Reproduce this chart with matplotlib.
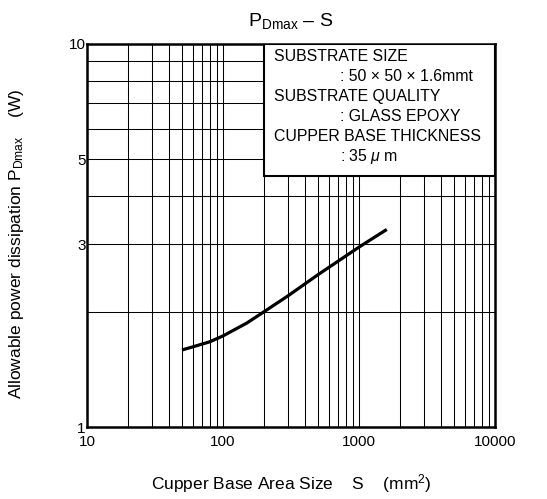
import matplotlib
matplotlib.use("Agg")
import matplotlib.pyplot as plt
from matplotlib.patches import Rectangle
from matplotlib.ticker import FixedLocator, FixedFormatter, LogLocator, NullFormatter

plt.rcParams['font.family'] = ['Liberation Sans', 'DejaVu Sans']
plt.rcParams['mathtext.fontset'] = 'custom'
plt.rcParams['mathtext.rm'] = 'Liberation Sans'
plt.rcParams['mathtext.it'] = 'Liberation Sans:italic'

# curve
area = [50, 60, 80, 100, 150, 200, 300, 500, 1000, 1600]
pdmax = [1.59, 1.62, 1.67, 1.73, 1.87, 2.0, 2.2, 2.5, 2.95, 3.28]

x_ticks = [10, 100, 1000, 10000]
x_labels = ['10', '100', '1000', '10000']
y_ticks = [1, 3, 5, 10]
y_labels = ['1', '3', '5', '10']

note_lines = [
    ('SUBSTRATE SIZE', 0),
    (': 50 × 50 × 1.6mmt', 1),
    ('SUBSTRATE QUALITY', 0),
    (': GLASS EPOXY', 1),
    ('CUPPER BASE THICKNESS', 0),
    (r': 35 $\mu$ m', 1),
]

fig = plt.figure(figsize=(5.47, 4.99), dpi=100)
ax = fig.add_axes([0.159, 0.144, 0.746, 0.768])

ax.plot(area, pdmax, color='black', lw=2.3, solid_capstyle='butt', zorder=3)

ax.set_xscale('log')
ax.set_yscale('log')
ax.set_xlim(10, 10000)
ax.set_ylim(1, 10)

ax.xaxis.set_major_locator(FixedLocator(x_ticks))
ax.xaxis.set_major_formatter(FixedFormatter(x_labels))
ax.xaxis.set_minor_locator(LogLocator(base=10, subs=range(2, 10)))
ax.xaxis.set_minor_formatter(NullFormatter())
ax.yaxis.set_major_locator(FixedLocator(y_ticks))
ax.yaxis.set_major_formatter(FixedFormatter(y_labels))
ax.yaxis.set_minor_locator(LogLocator(base=10, subs=range(2, 10)))
ax.yaxis.set_minor_formatter(NullFormatter())

ax.grid(True, which='both', color='black', lw=0.75)
ax.tick_params(which='both', length=0, labelsize=11)
ax.tick_params(axis='y', pad=1)
ax.tick_params(axis='x', pad=6)
for s in ax.spines.values():
    s.set_linewidth(1.8)

# note box in the upper right
box = Rectangle((0.434, 0.656), 0.566, 0.344, transform=ax.transAxes,
                facecolor='white', edgecolor='black', lw=1.5, zorder=4)
ax.add_patch(box)
y0 = 0.966
for i, (txt, indent) in enumerate(note_lines):
    xx = 0.62 if indent else 0.458
    ax.text(xx, y0 - i * 0.0522, txt, transform=ax.transAxes, fontsize=11.4,
            va='center', ha='left', zorder=5)

ax.set_xlabel(r'Cupper Base Area Size    S    (mm$^2$)', fontsize=12.5, labelpad=16)
ax.set_ylabel(r'Allowable power dissipation P$_{\mathrm{Dmax}}$    (W)', fontsize=12.5)
ax.yaxis.set_label_coords(-0.15, 0.478)
ax.set_title(r'P$_{\mathrm{Dmax}}$ – S', fontsize=14, pad=13)

fig.savefig('out.png', dpi=100)
